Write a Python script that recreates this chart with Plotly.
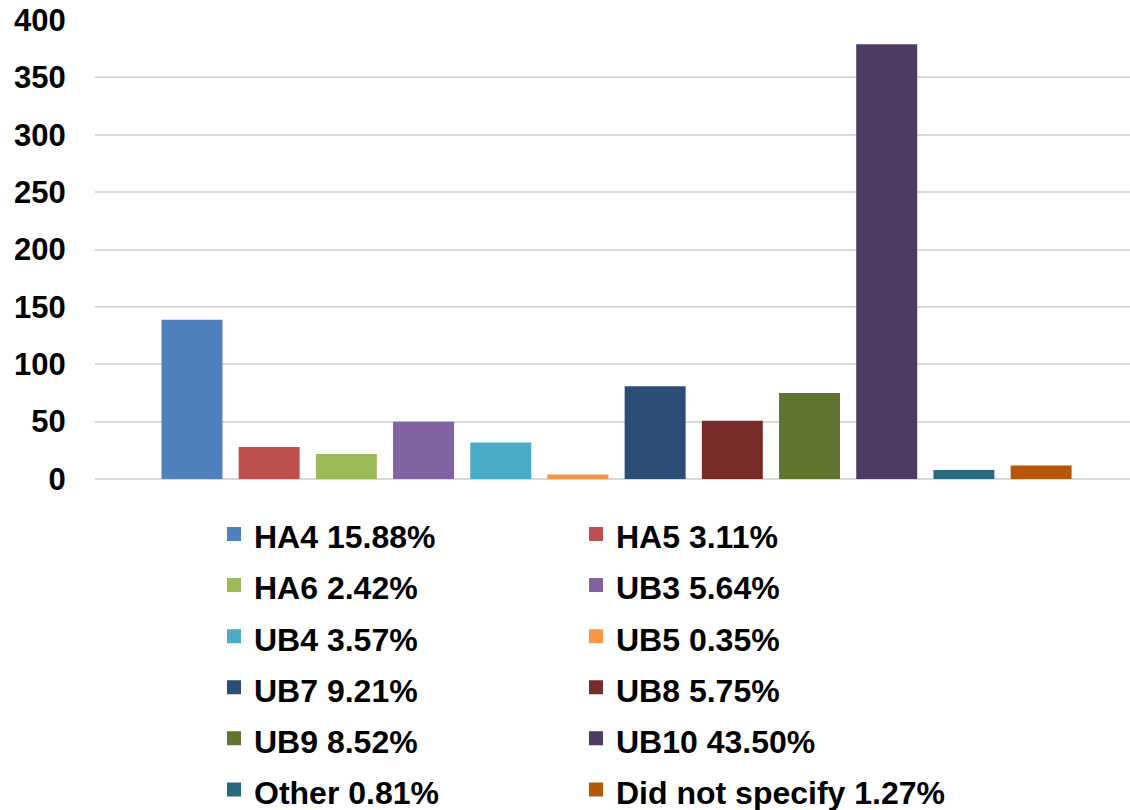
import plotly.graph_objects as go

categories = ["HA4", "HA5", "HA6", "UB3", "UB4", "UB5", "UB7", "UB8", "UB9", "UB10", "Other", "Did not specify"]
counts = [138, 27, 21, 49, 31, 3, 80, 50, 74, 378, 7, 11]
percent_labels = ["15.88%", "3.11%", "2.42%", "5.64%", "3.57%", "0.35%", "9.21%", "5.75%", "8.52%", "43.50%", "0.81%", "1.27%"]
colors = ["#4F81BD", "#C0504D", "#9BBB59", "#8064A2", "#4BACC6", "#F79646",
          "#2C4D75", "#772C2A", "#5F7530", "#4D3B62", "#276A7C", "#B65708"]
y_ticks = [0, 50, 100, 150, 200, 250, 300, 350, 400]

FONT = "Liberation Sans, Arial, sans-serif"

fig = go.Figure()
for i, (cat, val, pct, col) in enumerate(zip(categories, counts, percent_labels, colors)):
    fig.add_trace(go.Bar(
        x=["All"], y=[val],
        name=f"<span style='font-size:32px'>{cat} {pct}</span>",
        marker=dict(color=col, line=dict(width=2, color=col)),
        legend="legend" if i % 2 == 0 else "legend2",
        hovertemplate=f"{cat}: %{{y}}<extra></extra>",
    ))

legend_common = dict(
    orientation="v",
    font=dict(family=FONT, size=37, color="#000000", weight="bold"),
    bgcolor="rgba(0,0,0,0)",
    xref="paper", yref="container",
    xanchor="left", yanchor="top",
    traceorder="normal",
    y=1 - 503.4 / 810,
)

fig.update_layout(
    width=1130, height=810,
    margin=dict(l=95, r=0, t=20, b=331),
    paper_bgcolor="white", plot_bgcolor="white",
    barmode="group", bargap=0.105, bargroupgap=0.236,
    showlegend=True,
    legend=dict(**legend_common, x=(214 - 95) / 1035),
    legend2=dict(**legend_common, x=(576 - 95) / 1035),
    xaxis=dict(showticklabels=False, showgrid=False, zeroline=False, showline=False, ticks="",
               range=[-0.5039, 0.4961], automargin=False),
    yaxis=dict(
        range=[0, 400], tickvals=y_ticks, showgrid=True, gridcolor="#D9D9D9", gridwidth=1.5,
        zeroline=True, zerolinecolor="#D9D9D9", zerolinewidth=1.5, showline=False,
        ticks="outside", ticklen=22, tickcolor="rgba(0,0,0,0)", automargin=False,
        tickfont=dict(family=FONT, size=31, color="#000000", weight="bold"),
    ),
    font=dict(family=FONT),
)

fig.write_html(
    "out.html",
    config={"displayModeBar": False},
    post_script="document.body.style.margin='0';document.body.style.overflow='hidden';",
)
